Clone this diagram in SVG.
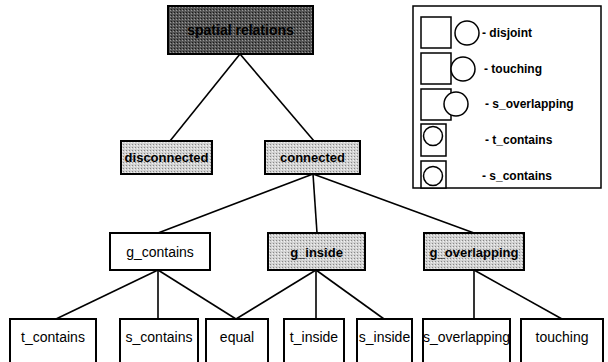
<svg xmlns="http://www.w3.org/2000/svg" width="608" height="362" viewBox="0 0 608 362">
<defs>
<pattern id="dots" width="3" height="3" patternUnits="userSpaceOnUse">
<rect width="3" height="3" fill="#d2d2d2"/>
<rect x="0" y="0" width="1" height="1" fill="#888"/>
<rect x="2" y="1" width="1" height="1" fill="#f2f2f2"/>
</pattern>
<pattern id="dark" width="3" height="3" patternUnits="userSpaceOnUse">
<rect width="3" height="3" fill="#555"/>
<rect x="0" y="0" width="1" height="1" fill="#1a1a1a"/>
<rect x="2" y="1" width="1" height="1" fill="#999"/>
</pattern>
</defs>
<style>
.box{fill:#fff;stroke:#000;stroke-width:2}
.grey{fill:url(#dots);stroke:#000;stroke-width:2}
.darkbox{fill:url(#dark);stroke:#000;stroke-width:2}
.t{font-family:"Liberation Sans",Arial,sans-serif;font-size:14px;fill:#000;text-anchor:middle}
.b{font-family:"Liberation Sans",Arial,sans-serif;font-size:13px;font-weight:bold;fill:#000;text-anchor:middle}
.lg{font-family:"Liberation Sans",Arial,sans-serif;font-size:12px;font-weight:bold;fill:#000}
.c{stroke:#000;stroke-width:1.6;fill:none}
.sh{fill:#fff;stroke:#000;stroke-width:1.5}
</style>
<g id="connectors" class="c">
<line x1="240" y1="54" x2="170" y2="141"/>
<line x1="240" y1="54" x2="314" y2="141"/>
<line x1="313" y1="174" x2="158" y2="233"/>
<line x1="313" y1="174" x2="317" y2="233"/>
<line x1="313" y1="174" x2="474" y2="233"/>
<line x1="158" y1="270" x2="56" y2="319"/>
<line x1="158" y1="270" x2="158" y2="319"/>
<line x1="158" y1="270" x2="236" y2="319"/>
<line x1="316" y1="270" x2="236" y2="319"/>
<line x1="316" y1="270" x2="316" y2="319"/>
<line x1="316" y1="270" x2="384" y2="319"/>
<line x1="474" y1="270" x2="474" y2="319"/>
<line x1="474" y1="270" x2="562" y2="319"/>
</g>
<g id="spatial_relations">
<rect class="darkbox" x="168" y="6" width="145" height="48"/>
<text class="b" x="240.5" y="35" style="font-size:14px">spatial relations</text>
</g>
<g id="disconnected">
<rect class="grey" x="121" y="141" width="91" height="33"/>
<text class="b" x="166.5" y="162">disconnected</text>
</g>
<g id="connected">
<rect class="grey" x="265" y="141" width="95" height="33"/>
<text class="b" x="312.5" y="162">connected</text>
</g>
<g id="g_contains">
<rect class="box" x="110" y="233" width="100" height="37"/>
<text class="t" x="160" y="257">g_contains</text>
</g>
<g id="g_inside">
<rect class="grey" x="268" y="233" width="97" height="37"/>
<text class="b" x="316.5" y="257">g_inside</text>
</g>
<g id="g_overlapping">
<rect class="grey" x="424" y="233" width="100" height="37"/>
<text class="b" x="474" y="257">g_overlapping</text>
</g>
<g id="t_contains">
<rect class="box" x="10" y="319" width="86" height="50"/>
<text class="t" x="53" y="342">t_contains</text>
</g>
<g id="s_contains">
<rect class="box" x="120" y="319" width="78" height="50"/>
<text class="t" x="159" y="342">s_contains</text>
</g>
<g id="equal">
<rect class="box" x="206" y="319" width="62" height="50"/>
<text class="t" x="237" y="342">equal</text>
</g>
<g id="t_inside">
<rect class="box" x="284" y="319" width="60" height="50"/>
<text class="t" x="314" y="342">t_inside</text>
</g>
<g id="s_inside">
<rect class="box" x="357" y="319" width="55" height="50"/>
<text class="t" x="384.5" y="342">s_inside</text>
</g>
<g id="s_overlapping">
<rect class="box" x="423" y="319" width="87" height="50"/>
<text class="t" x="466.5" y="342">s_overlapping</text>
</g>
<g id="touching">
<rect class="box" x="521" y="319" width="82" height="50"/>
<text class="t" x="562" y="342">touching</text>
</g>
<g id="legend">
<rect x="413" y="6" width="188" height="182" fill="#fff" stroke="#000" stroke-width="1.5"/>
<rect class="sh" x="421" y="17" width="30" height="31"/>
<circle class="sh" cx="467" cy="33" r="12"/>
<text class="lg" x="482" y="37">- disjoint</text>
<rect class="sh" x="421" y="53" width="30" height="31"/>
<circle class="sh" cx="463" cy="69" r="12"/>
<text class="lg" x="484" y="73">- touching</text>
<rect class="sh" x="421" y="89" width="30" height="31"/>
<circle class="sh" cx="456" cy="104" r="12"/>
<text class="lg" x="485" y="108">- s_overlapping</text>
<rect class="sh" x="421" y="124" width="25" height="32"/>
<circle class="sh" cx="433" cy="136" r="9.5"/>
<text class="lg" x="485" y="144">- t_contains</text>
<rect class="sh" x="421" y="161" width="25" height="27"/>
<circle class="sh" cx="433" cy="176" r="9.5"/>
<text class="lg" x="482" y="180">- s_contains</text>
</g>
</svg>
